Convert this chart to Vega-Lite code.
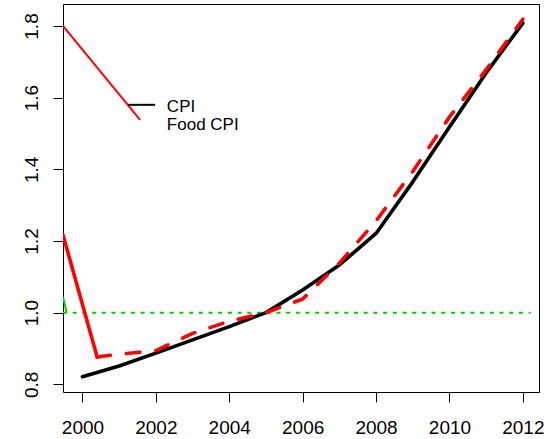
{
  "$schema": "https://vega.github.io/schema/vega-lite/v6.json",
  "width": 476,
  "height": 388,
  "padding": {"left": 63, "top": 4, "right": 18, "bottom": 47},
  "autosize": {"type": "none"},
  "background": "white",
  "config": {
    "view": {"stroke": "black", "strokeWidth": 1},
    "axis": {
      "labelFont": "Liberation Sans",
      "labelFontSize": 19,
      "labelColor": "black",
      "tickColor": "black",
      "tickSize": 10,
      "tickWidth": 1,
      "domain": false,
      "grid": false,
      "title": null
    }
  },
  "datasets": {
    "series": [
      {"series": "CPI", "year": 2000, "value": 0.821},
      {"series": "CPI", "year": 2001, "value": 0.851},
      {"series": "CPI", "year": 2002, "value": 0.887},
      {"series": "CPI", "year": 2003, "value": 0.924},
      {"series": "CPI", "year": 2004, "value": 0.961},
      {"series": "CPI", "year": 2005, "value": 1.0},
      {"series": "CPI", "year": 2006, "value": 1.063},
      {"series": "CPI", "year": 2007, "value": 1.133},
      {"series": "CPI", "year": 2008, "value": 1.221},
      {"series": "CPI", "year": 2009, "value": 1.365},
      {"series": "CPI", "year": 2010, "value": 1.518},
      {"series": "CPI", "year": 2011, "value": 1.669},
      {"series": "CPI", "year": 2012, "value": 1.808},
      {"series": "Food CPI", "year": 2000.4, "value": 0.876},
      {"series": "Food CPI", "year": 2001, "value": 0.884},
      {"series": "Food CPI", "year": 2002, "value": 0.894},
      {"series": "Food CPI", "year": 2003, "value": 0.942},
      {"series": "Food CPI", "year": 2004, "value": 0.976},
      {"series": "Food CPI", "year": 2005, "value": 1.0},
      {"series": "Food CPI", "year": 2006, "value": 1.038},
      {"series": "Food CPI", "year": 2007, "value": 1.138},
      {"series": "Food CPI", "year": 2008, "value": 1.256},
      {"series": "Food CPI", "year": 2009, "value": 1.394},
      {"series": "Food CPI", "year": 2010, "value": 1.546},
      {"series": "Food CPI", "year": 2011, "value": 1.678},
      {"series": "Food CPI", "year": 2012, "value": 1.819}
    ],
    "segments": [
      {"seg": "redTop", "year": 1999.47, "value": 1.8},
      {"seg": "redTop", "year": 2001.57, "value": 1.538},
      {"seg": "redLow", "year": 1999.47, "value": 1.217},
      {"seg": "redLow", "year": 2000.4, "value": 0.876},
      {"seg": "green", "year": 1999.47, "value": 1.044},
      {"seg": "green", "year": 1999.57, "value": 1.0},
      {"seg": "key", "year": 2001.25, "value": 1.58},
      {"seg": "key", "year": 2001.98, "value": 1.58},
      {"seg": "base", "year": 1999.47, "value": 1.0},
      {"seg": "base", "year": 2012.21, "value": 1.0}
    ],
    "labels": [
      {"label": "CPI", "year": 2002.3, "value": 1.5592},
      {"label": "Food CPI", "year": 2002.3, "value": 1.5111}
    ]
  },
  "encoding": {
    "x": {
      "field": "year",
      "type": "quantitative",
      "scale": {"domain": [1999.47, 2012.44], "nice": false, "zero": false},
      "axis": {
        "values": [2000, 2002, 2004, 2006, 2008, 2010, 2012],
        "format": "d",
        "labelBaseline": "alphabetic",
        "labelPadding": 31
      }
    },
    "y": {
      "field": "value",
      "type": "quantitative",
      "scale": {"domain": [0.7785, 1.8614], "nice": false, "zero": false},
      "axis": {
        "values": [0.8, 1.0, 1.2, 1.4, 1.6, 1.8],
        "format": ".1f",
        "labelAngle": -90,
        "labelAlign": "center",
        "labelBaseline": "alphabetic",
        "labelPadding": 16
      }
    }
  },
  "layer": [
    {
      "data": {"name": "segments"},
      "transform": [{"filter": "datum.seg === 'base'"}],
      "mark": {"type": "line", "color": "#00CC00", "strokeWidth": 2, "strokeDash": [4, 5.7], "clip": true}
    },
    {
      "data": {"name": "segments"},
      "transform": [{"filter": "datum.seg === 'green'"}],
      "mark": {"type": "line", "color": "#00CC00", "strokeWidth": 2, "clip": true}
    },
    {
      "data": {"name": "series"},
      "transform": [{"filter": "datum.series === 'CPI'"}],
      "mark": {"type": "line", "color": "black", "strokeWidth": 3.6, "strokeCap": "round", "strokeJoin": "round", "clip": true}
    },
    {
      "data": {"name": "series"},
      "transform": [{"filter": "datum.series === 'Food CPI'"}],
      "mark": {"type": "line", "color": "#FF0000", "strokeWidth": 3.6, "strokeCap": "round", "strokeJoin": "round", "strokeDash": [13.5, 16], "clip": true}
    },
    {
      "data": {"name": "segments"},
      "transform": [{"filter": "datum.seg === 'redLow'"}],
      "mark": {"type": "line", "color": "#FF0000", "strokeWidth": 3.6, "strokeCap": "round", "clip": true}
    },
    {
      "data": {"name": "segments"},
      "transform": [{"filter": "datum.seg === 'redTop'"}],
      "mark": {"type": "line", "color": "#FF0000", "strokeWidth": 2, "clip": true}
    },
    {
      "data": {"name": "segments"},
      "transform": [{"filter": "datum.seg === 'key'"}],
      "mark": {"type": "line", "color": "black", "strokeWidth": 2}
    },
    {
      "data": {"name": "labels"},
      "mark": {"type": "text", "font": "Liberation Sans", "fontSize": 17, "align": "left", "baseline": "alphabetic", "color": "black"},
      "encoding": {"text": {"field": "label"}}
    }
  ]
}
